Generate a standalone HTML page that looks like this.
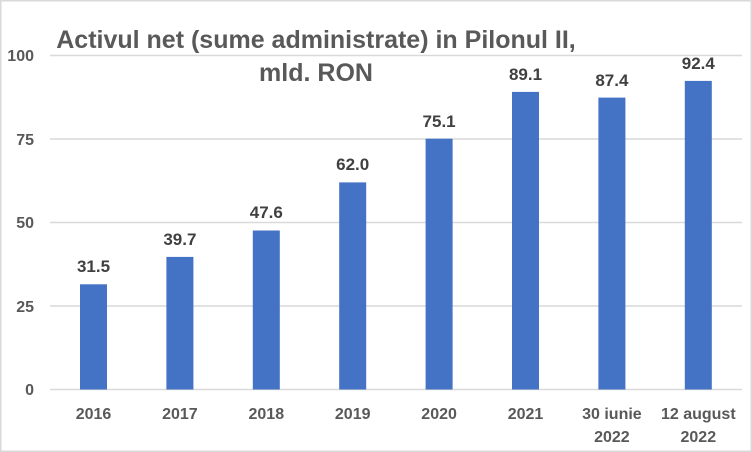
<!DOCTYPE html>
<html><head><style>
body{margin:0;background:#fff;}
svg{display:block;font-family:"Liberation Sans",sans-serif;}
</style></head><body>
<svg width="752" height="452" viewBox="0 0 752 452">
<rect x="0.75" y="0.75" width="750.5" height="450.5" fill="#fff" stroke="#d9d9d9" stroke-width="1.5"/>
<g stroke="#d9d9d9" stroke-width="1.5">
<line x1="50" x2="742" y1="55.5" y2="55.5"/>
<line x1="50" x2="742" y1="139" y2="139"/>
<line x1="50" x2="742" y1="222.5" y2="222.5"/>
<line x1="50" x2="742" y1="306" y2="306"/>
<line x1="50" x2="742" y1="389.5" y2="389.5"/>
</g>
<g fill="#595959" font-size="16" font-weight="bold" text-anchor="end">
<text x="34" y="61">100</text>
<text x="34" y="145">75</text>
<text x="34" y="228">50</text>
<text x="34" y="312">25</text>
<text x="34" y="395">0</text>
</g>
<text x="316" y="48" fill="#595959" font-size="25" font-weight="bold" text-anchor="middle">Activul net (sume administrate) in Pilonul II,</text>
<text x="316" y="81" fill="#595959" font-size="25" font-weight="bold" text-anchor="middle">mld. RON</text>
<g fill="#4472c4">
<rect x="80" y="284.3" width="27" height="105.2"/>
<rect x="166.4" y="256.9" width="27" height="132.6"/>
<rect x="252.8" y="230.5" width="27" height="159"/>
<rect x="339.2" y="182.4" width="27" height="207.1"/>
<rect x="425.6" y="138.7" width="27" height="250.8"/>
<rect x="512" y="91.9" width="27" height="297.6"/>
<rect x="598.4" y="97.6" width="27" height="291.9"/>
<rect x="684.8" y="80.9" width="27" height="308.6"/>
</g>
<g fill="#404040" font-size="17" font-weight="bold" text-anchor="middle">
<text x="93.5" y="272">31.5</text>
<text x="179.9" y="245">39.7</text>
<text x="266.3" y="218">47.6</text>
<text x="352.7" y="170">62.0</text>
<text x="439.1" y="127">75.1</text>
<text x="525.5" y="80">89.1</text>
<text x="611.9" y="86">87.4</text>
<text x="698.3" y="69">92.4</text>
</g>
<g fill="#595959" font-size="16" font-weight="bold" text-anchor="middle">
<text x="93.5" y="419">2016</text>
<text x="179.9" y="419">2017</text>
<text x="266.3" y="419">2018</text>
<text x="352.7" y="419">2019</text>
<text x="439.1" y="419">2020</text>
<text x="525.5" y="419">2021</text>
<text x="611.9" y="419">30 iunie</text>
<text x="611.9" y="442">2022</text>
<text x="698.3" y="419">12 august</text>
<text x="698.3" y="442">2022</text>
</g>
</svg>
</body></html>
